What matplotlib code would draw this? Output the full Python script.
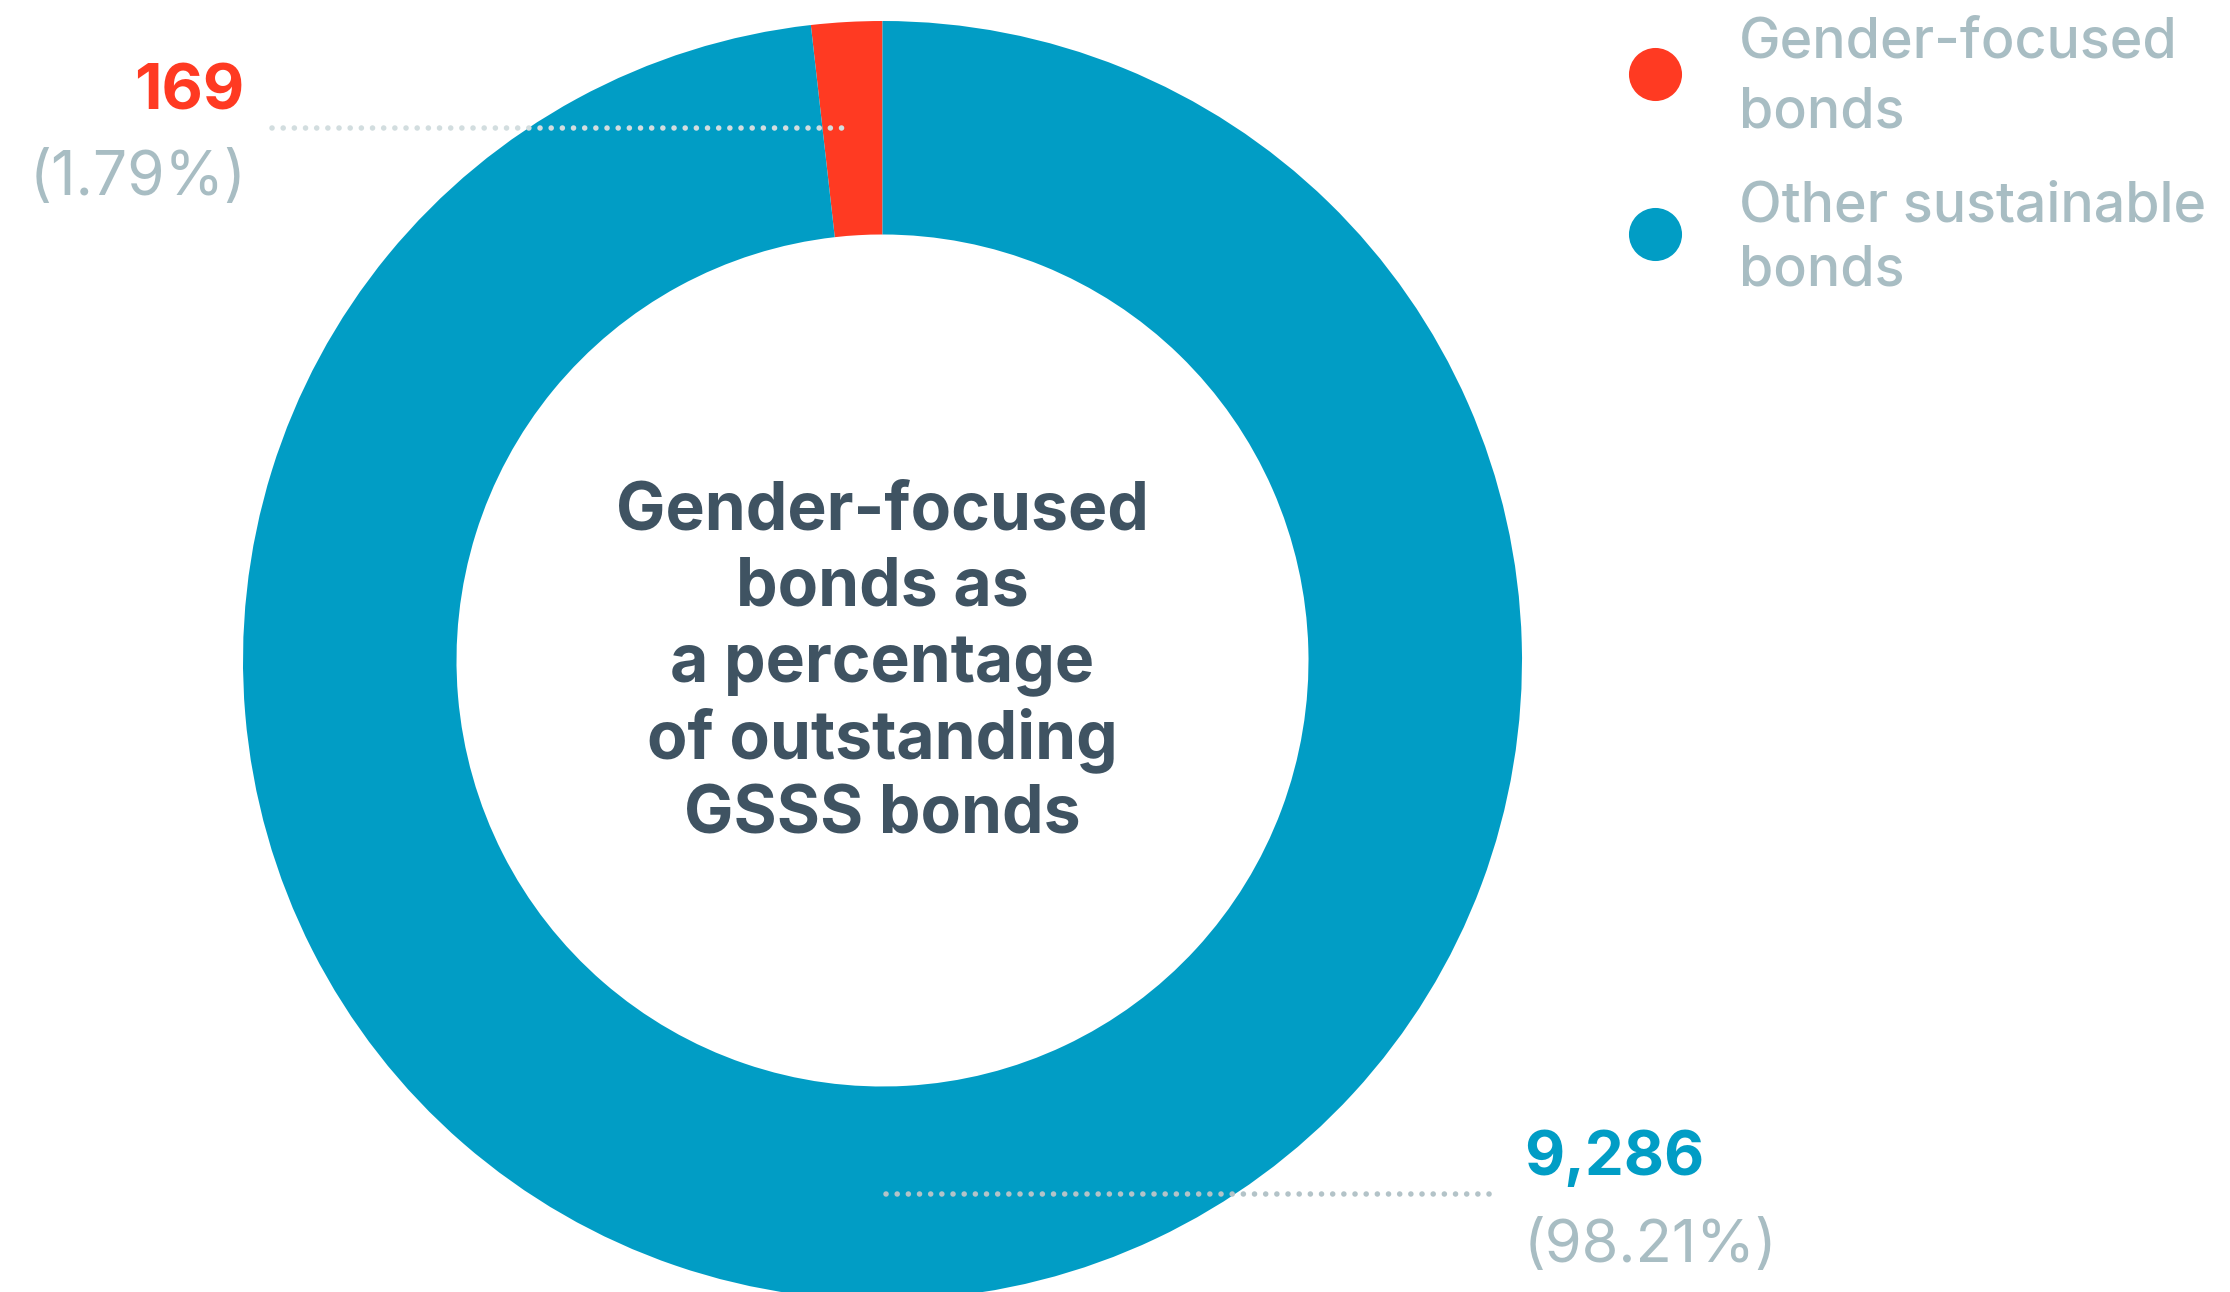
import matplotlib
matplotlib.use("Agg")
import matplotlib.pyplot as plt

# Data
categories = ["Gender-focused bonds", "Other sustainable bonds"]
values = [169, 9286]
legend_lines = [["Gender-focused", "bonds"], ["Other sustainable", "bonds"]]
center_lines = ["Gender-focused", "bonds as", "a percentage",
                "of outstanding", "GSSS bonds"]

RED = "#FF3A22"
BLUE = "#019DC5"
GREY = "#A8BDC3"
DARK = "#3F5362"
DOT_TOP = "#D2DDDF"
DOT_BOTTOM = "#B3C3C8"

W, H = 2230, 1292
fig = plt.figure(figsize=(W / 100, H / 100), dpi=100)
ax = fig.add_axes([0, 0, 1, 1])


def Y(y):
    # convert a top-down pixel position to the axes' bottom-up coordinates
    return H - y


cx, cy, R = 882.5, 660.5, 639.5
ax.pie(values, colors=[RED, BLUE], startangle=90, counterclock=True,
       radius=R, center=(cx, Y(cy)),
       wedgeprops=dict(width=213.5, linewidth=0))
ax.set_xlim(0, W)
ax.set_ylim(0, H)
ax.set_aspect("equal")
ax.axis("off")

total = sum(values)
pcts = [v / total * 100 for v in values]

FAM = "Inter"
font_b = dict(family=FAM, weight="bold")
font_m = dict(family=FAM, weight="medium")
font_r = dict(family=FAM, weight="normal")

# dotted leader lines
dot_style = dict(linewidth=4.0, linestyle=(0, (0.01, 2.0)),
                 dash_capstyle="round", solid_capstyle="round", zorder=5)
ax.plot([272, 848], [Y(128), Y(128)], color=DOT_TOP, **dot_style)
ax.plot([886, 1495], [Y(1194), Y(1194)], color=DOT_BOTTOM, **dot_style)

# value labels
ax.text(244, Y(109), f"{values[0]:,}", color=RED, fontsize=46,
        ha="right", va="baseline", **font_b)
ax.text(247, Y(195), f"({pcts[0]:.2f}%)", color=GREY, fontsize=43.5,
        ha="right", va="baseline", **font_r)
ax.text(1524, Y(1175), f"{values[1]:,}", color=BLUE, fontsize=44.5,
        ha="left", va="baseline", **font_b)
ax.text(1524, Y(1262), f"({pcts[1]:.2f}%)", color=GREY, fontsize=43,
        ha="left", va="baseline", **font_r)

# center title, one line at a time
for i, line in enumerate(center_lines):
    ax.text(cx, Y(530 + 76 * i), line, color=DARK, fontsize=47.5,
            ha="center", va="baseline", **font_b)

# legend
legend_baselines = [[58, 128], [221, 285]]
for lines, bases, col, ly in zip(legend_lines, legend_baselines,
                                 [RED, BLUE], [74, 234]):
    ax.scatter([1655], [Y(ly)], s=1460, color=col, linewidths=0, zorder=6)
    for line, b in zip(lines, bases):
        ax.text(1739, Y(b), line, color=GREY, fontsize=40, ha="left",
                va="baseline", **font_m)

fig.savefig("out.png", dpi=100, facecolor="white")
